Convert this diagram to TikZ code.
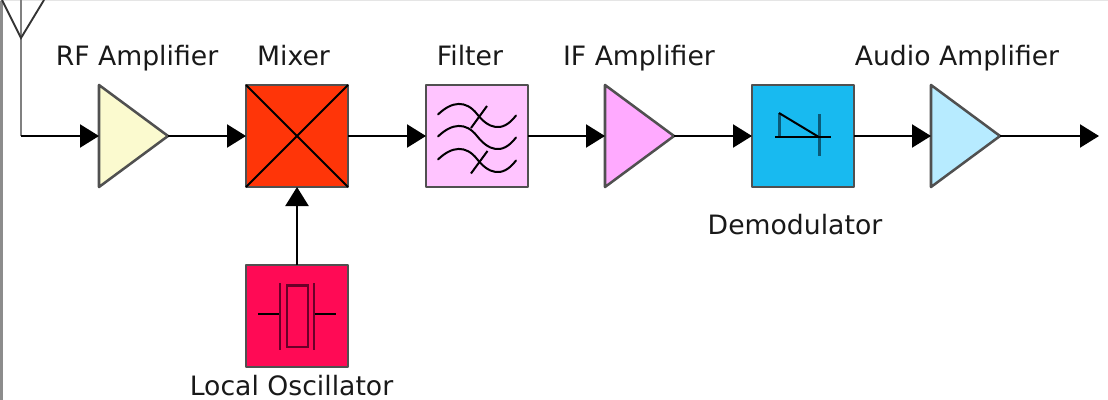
\documentclass[tikz,border=0pt]{standalone}
\usepackage{fontspec}
\setmainfont{DejaVu Sans}
\usetikzlibrary{arrows.meta,shapes.geometric}
\definecolor{edge}{HTML}{505050}
\definecolor{crystal}{HTML}{6A0028}
\tikzset{
  x=0.75pt,y=-0.75pt,
  blockbox/.style={draw=edge,line width=1.9pt,rectangle,minimum size=76.5pt,inner sep=0pt,outer sep=0pt,line join=round},
  amp/.style={draw=edge,line width=1.9pt,isosceles triangle,isosceles triangle stretches,minimum width=76.5pt,minimum height=51.75pt,inner sep=0pt,outer sep=0pt,line join=round,anchor=west},
  link/.style={draw=black,line width=1.7pt,-{Triangle[length=14.25pt,width=17.25pt]},shorten >=0pt},
  wire/.style={draw=black,line width=1.5pt},
  label/.style={font=\fontsize{20pt}{22pt}\selectfont,text=black!90,inner sep=0pt,anchor=base}
}
\begin{document}
\begin{tikzpicture}
\useasboundingbox (0,0) rectangle (1108,400);
% frame traces
\fill[gray!90] (0,0) rectangle (2.5,400);
\fill[gray!20] (0,0) rectangle (1108,1);
% blocks
\node[amp,fill={rgb,255:red,251;green,250;blue,207}] (rf) at (99,136) {};
\node[blockbox,fill={rgb,255:red,255;green,53;blue,8}] (mix) at (297,136) {};
\node[blockbox,fill={rgb,255:red,255;green,196;blue,255}] (fil) at (477,136) {};
\node[amp,fill={rgb,255:red,255;green,170;blue,255}] (ifa) at (605,136) {};
\node[blockbox,fill={rgb,255:red,24;green,186;blue,240}] (dem) at (803,136) {};
\node[amp,fill={rgb,255:red,183;green,235;blue,255}] (aud) at (931,136) {};
\node[blockbox,fill={rgb,255:red,255;green,10;blue,85}] (lo) at (297,316) {};
% antenna
\coordinate (anttop) at (21,0);
\coordinate (antfoot) at (21,38);
\coordinate (antl) at (2,0);
\coordinate (antr) at (44,0);
\coordinate (antcorner) at (21,136);
\coordinate (out) at (1099,136);
\draw[gray,line width=2pt] (anttop) -- (antcorner);
\draw[black!80,line width=1.4pt] (antl) -- (antfoot) -- (antr);
% connectors
\draw[link] (antcorner) -- (rf.west);
\draw[link] (rf.east) -- (mix.west);
\draw[link] (mix.east) -- (fil.west);
\draw[link] (fil.east) -- (ifa.west);
\draw[link] (ifa.east) -- (dem.west);
\draw[link] (dem.east) -- (aud.west);
\draw[link] (aud.east) -- (out);
\draw[link] (lo.north) -- (mix.south);
% mixer cross
\draw[wire] (mix.north west) -- (mix.south east);
\draw[wire] (mix.north east) -- (mix.south west);
% filter symbol
\foreach \dy in {0,22,45}{
  \draw[wire,yshift=-0.75*\dy pt,line cap=round] (438,114.5) .. controls (452,101) and (466,100) .. (477,114) .. controls (488,128) and (502,134) .. (516,115.5);
}
\draw[wire] (471,128) -- (487,106);
\draw[wire] (471,173.5) -- (487.5,151);
% diode symbol
\draw[draw={rgb,255:red,10;green,90;blue,120},line width=1.9pt] (779.5,113) -- (779.5,136.5);
\draw[draw={rgb,255:red,10;green,90;blue,120},line width=1.9pt] (819.5,114) -- (819.5,156);
\draw[wire] (775,136.5) -- (831,136.5);
\draw[wire] (779,113) -- (818,136.5);
% crystal symbol
\draw[wire] (258,314) -- (280,314);
\draw[wire] (314,314) -- (336,314);
\draw[crystal,line width=1.8pt] (280,283) -- (280,350);
\draw[crystal,line width=1.8pt] (314,283) -- (314,350);
\draw[crystal,line width=1.8pt] (287,285.5) rectangle (308,347);
% labels
\node[label] (l1) at (137,65) {RF Amplifier};
\node[label] (l2) at (293.5,65) {Mixer};
\node[label] (l3) at (470,65) {Filter};
\node[label] (l4) at (639,65) {IF Amplifier};
\node[label] (l5) at (957,65) {Audio Amplifier};
\node[label] (l6) at (795,234) {Demodulator};
\node[label] (l7) at (291.5,395) {Local Oscillator};
\end{tikzpicture}
\end{document}
